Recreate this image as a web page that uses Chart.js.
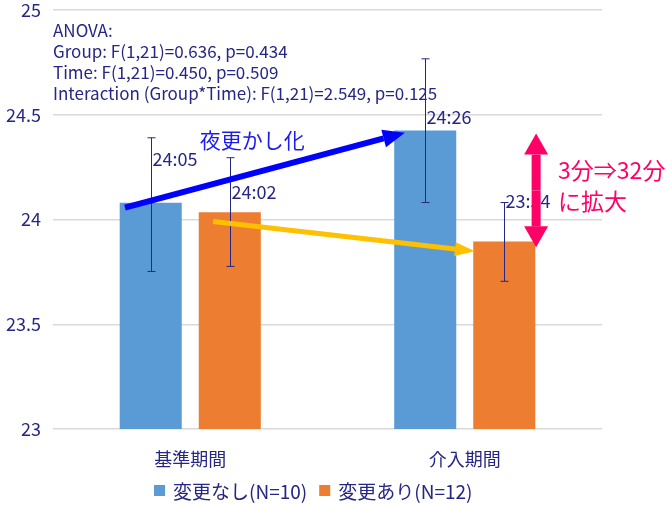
<!DOCTYPE html>
<html>
<head>
<meta charset="utf-8">
<script src="https://cdn.jsdelivr.net/npm/chart.js@4"></script>
<style>
  html, body { margin: 0; padding: 0; background: #fff; }
  #wrap { width: 667px; height: 505px; }
</style>
</head>
<body>
<div id="wrap"><canvas id="chart" width="667" height="505"></canvas></div>
<script>
// periods and groups
const periods = ["基準期間", "介入期間"];
const seriesNames = ["変更なし(N=10)", "変更あり(N=12)"];

// mean bedtime in hours (24:05 -> 24.08 etc.)
const noChange = [24.08, 24.425];
const changed = [24.035, 23.895];

// error bar ends
const noChangeLow = [23.752, 24.081];
const noChangeHigh = [24.39, 24.767];
const changedLow = [23.776, 23.705];
const changedHigh = [24.295, 24.081];

// value labels shown next to each bar
const noChangeLabels = ["24:05", "24:26"];
const changedLabels = ["24:02", "23:54"];

const yTicks = [23, 23.5, 24, 24.5, 25];

const anovaLines = [
  "ANOVA:",
  "Group: F(1,21)=0.636, p=0.434",
  "Time: F(1,21)=0.450, p=0.509",
  "Interaction (Group*Time): F(1,21)=2.549, p=0.125"
];

const navy = "#262685";
const fontJP = "'Noto Sans CJK JP', 'Noto Sans', sans-serif";

function arrow(ctx, x1, y1, x2, y2, color, w, headLen, headW) {
  const ang = Math.atan2(y2 - y1, x2 - x1);
  const bx = x2 - Math.cos(ang) * headLen;
  const by = y2 - Math.sin(ang) * headLen;
  ctx.save();
  ctx.strokeStyle = color;
  ctx.fillStyle = color;
  ctx.lineWidth = w;
  ctx.beginPath();
  ctx.moveTo(x1, y1);
  ctx.lineTo(bx, by);
  ctx.stroke();
  ctx.beginPath();
  ctx.moveTo(x2, y2);
  ctx.lineTo(bx + Math.sin(ang) * headW / 2, by - Math.cos(ang) * headW / 2);
  ctx.lineTo(bx - Math.sin(ang) * headW / 2, by + Math.cos(ang) * headW / 2);
  ctx.closePath();
  ctx.fill();
  ctx.restore();
}

// error bars + value labels
const errorBars = {
  id: "errorBars",
  afterDatasetsDraw(chart) {
    const ctx = chart.ctx;
    const y = chart.scales.y;
    const lows = [noChangeLow, changedLow];
    const highs = [noChangeHigh, changedHigh];
    const labels = [noChangeLabels, changedLabels];
    const labelAt = [[24.257, 24.457], [24.1, 24.057]];
    ctx.save();
    chart.data.datasets.forEach((ds, di) => {
      const meta = chart.getDatasetMeta(di);
      meta.data.forEach((bar, i) => {
        const x = Math.round(bar.x) + 0.5;
        const top = y.getPixelForValue(highs[di][i]);
        const bot = y.getPixelForValue(lows[di][i]);
        ctx.strokeStyle = navy;
        ctx.lineWidth = 1;
        ctx.beginPath();
        ctx.moveTo(x, top); ctx.lineTo(x, bot);
        ctx.moveTo(x - 4, top); ctx.lineTo(x + 4, top);
        ctx.moveTo(x - 4, bot); ctx.lineTo(x + 4, bot);
        ctx.stroke();
        ctx.fillStyle = navy;
        ctx.font = "18px " + fontJP;
        ctx.textAlign = "left";
        ctx.textBaseline = "alphabetic";
        ctx.fillText(labels[di][i], x + 1, y.getPixelForValue(labelAt[di][i]));
      });
    });
    ctx.restore();
  }
};

// legend drawn by hand so it sits where the original one does
const bottomLegend = {
  id: "bottomLegend",
  afterDraw(chart) {
    const ctx = chart.ctx;
    const cy = 491;
    let x = 154;
    ctx.save();
    ctx.font = "19px " + fontJP;
    ctx.textAlign = "left";
    ctx.textBaseline = "middle";
    chart.data.datasets.forEach(ds => {
      ctx.fillStyle = ds.backgroundColor;
      ctx.fillRect(x, cy - 6, 11, 11);
      ctx.fillStyle = navy;
      ctx.fillText(ds.label, x + 19, cy + 1);
      x += 19 + ctx.measureText(ds.label).width + 12;
    });
    ctx.restore();
  }
};

// ANOVA note, arrows and comments
const notes = {
  id: "notes",
  afterDraw(chart) {
    const ctx = chart.ctx;
    const xs = chart.scales.x;
    const ys = chart.scales.y;
    const step = xs.getPixelForValue(1) - xs.getPixelForValue(0);
    const px = v => xs.getPixelForValue(0) + v * step;
    const py = v => ys.getPixelForValue(v);
    ctx.save();
    ctx.fillStyle = navy;
    ctx.font = "17px " + fontJP;
    ctx.textAlign = "left";
    ctx.textBaseline = "alphabetic";
    anovaLines.forEach((t, i) => {
      ctx.fillText(t, chart.chartArea.left, py(24.873) + i * 21);
    });

    // blue arrow: 夜更かし化
    arrow(ctx, px(-0.238), py(24.057), px(0.782), py(24.414), "#0000ff", 6, 22, 18);
    ctx.fillStyle = "#1c1cee";
    ctx.font = "21px " + fontJP;
    ctx.fillText("夜更かし化", px(0.035), py(24.34));

    // yellow arrow
    arrow(ctx, px(0.083), py(23.99), px(1.037), py(23.848), "#ffc000", 5, 20, 14);

    // pink double arrow
    const ax = px(1.26);
    const yt = py(24.41), yb = py(23.867);
    const mid = (yt + yb) / 2;
    arrow(ctx, ax, mid, ax, yt, "#ff0066", 9, 21, 24);
    arrow(ctx, ax, mid, ax, yb, "#ff0066", 9, 21, 24);
    ctx.fillStyle = "#ff0066";
    ctx.font = "23px " + fontJP;
    ctx.fillText("3分⇒32分", px(1.34), py(24.195));
    ctx.fillText("に拡大", px(1.34), py(24.045));
    ctx.restore();
  }
};

new Chart(document.getElementById("chart"), {
  type: "bar",
  data: {
    labels: periods,
    datasets: [
      {
        label: seriesNames[0],
        data: noChange,
        backgroundColor: "#5b9bd5",
        categoryPercentage: 0.576,
        barPercentage: 0.785
      },
      {
        label: seriesNames[1],
        data: changed,
        backgroundColor: "#ed7d31",
        categoryPercentage: 0.576,
        barPercentage: 0.785
      }
    ]
  },
  options: {
    responsive: false,
    animation: false,
    layout: { padding: { left: 0, right: 65, top: 10, bottom: 0 } },
    plugins: {
      legend: { display: false },
      tooltip: { enabled: false }
    },
    scales: {
      x: {
        grid: { display: false, drawTicks: false },
        border: { display: false },
        ticks: { color: navy, padding: 19, font: { size: 18, family: fontJP } },
        afterFit: s => { s.height = 76; s.paddingLeft = 0; s.paddingRight = 0; }
      },
      y: {
        min: 23,
        max: 25,
        afterBuildTicks: s => { s.ticks = yTicks.map(v => ({ value: v })); },
        grid: { color: "#d9d9d9", lineWidth: 1.5, drawTicks: false },
        border: { display: false },
        ticks: {
          color: navy,
          padding: 12,
          font: { size: 18, family: fontJP },
          callback: v => String(v)
        },
        afterFit: s => { s.width = 53; s.paddingTop = 0; s.paddingBottom = 0; }
      }
    }
  },
  plugins: [errorBars, notes, bottomLegend]
});
</script>
</body>
</html>
